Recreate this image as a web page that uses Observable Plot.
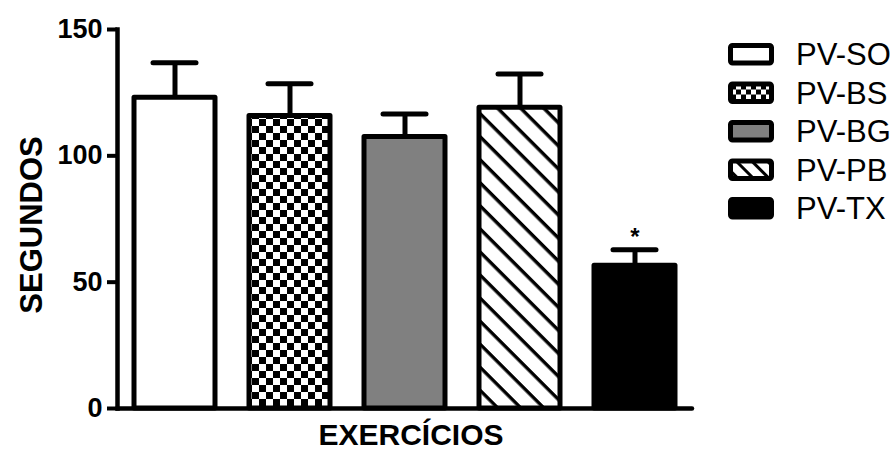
<!DOCTYPE html>
<html>
<head>
<meta charset="utf-8">
<script src="https://cdn.jsdelivr.net/npm/d3@7"></script>
<script src="https://cdn.jsdelivr.net/npm/@observablehq/plot@0.6"></script>
<style>
  html, body { margin: 0; padding: 0; background: #fff; }
  #wrap { position: relative; width: 894px; height: 450px; }
  #legend { position: absolute; left: 0; top: 0; }
</style>
</head>
<body>
<svg width="0" height="0" style="position:absolute">
  <defs>
    <pattern id="checker" patternUnits="userSpaceOnUse" width="14" height="14">
      <rect width="14" height="14" fill="#fff"></rect>
      <rect x="0" y="0" width="7" height="7" fill="#000"></rect>
      <rect x="7" y="7" width="7" height="7" fill="#000"></rect>
    </pattern>
    <pattern id="hatch" patternUnits="userSpaceOnUse" width="16.3" height="16.3" patternTransform="rotate(45)">
      <rect width="16.3" height="16.3" fill="#fff"></rect>
      <rect x="0" y="0" width="16.3" height="3.4" fill="#000"></rect>
    </pattern>
    <pattern id="checkerL" patternUnits="userSpaceOnUse" width="10" height="10" x="1" y="2">
      <rect width="10" height="10" fill="#fff"></rect>
      <rect x="0" y="0" width="5" height="5" fill="#000"></rect>
      <rect x="5" y="5" width="5" height="5" fill="#000"></rect>
    </pattern>
    <pattern id="hatchL" patternUnits="userSpaceOnUse" width="11" height="11" patternTransform="rotate(45)">
      <rect width="11" height="11" fill="#fff"></rect>
      <rect x="0" y="0" width="11" height="3" fill="#000"></rect>
    </pattern>
  </defs>
</svg>
<div id="wrap"></div>
<script>
// ---- data ----
const names = ["PV-SO", "PV-BS", "PV-BG", "PV-PB", "PV-TX"];
const means = [123, 115.8, 107.5, 119, 56.5];
const errs = [13.8, 12.7, 9.1, 13.4, 6.3];
const signif = ["", "", "", "", "*"];
const yTicks = [0, 50, 100, 150];
const fills = ["#ffffff", "url(#checker)", "#808080", "url(#hatch)", "#000000"];
const legendFills = ["#ffffff", "url(#checkerL)", "#808080", "url(#hatchL)", "#000000"];
const xLabel = "EXERCÍCIOS";
const yLabel = "SEGUNDOS";

const data = names.map((name, i) => ({
  name, mean: means[i], top: means[i] + errs[i], sig: signif[i]
}));

const chart = Plot.plot({
  width: 894,
  height: 450,
  marginLeft: 117,
  marginRight: 202,
  marginTop: 29,
  marginBottom: 42,
  style: { fontFamily: "Liberation Sans, Arial, sans-serif", fontSize: "27px", fontWeight: "bold", color: "#000", background: "#fff" },
  x: { domain: names, paddingInner: 0.3, paddingOuter: 0.15, axis: null },
  y: { domain: [0, 150], ticks: yTicks, label: null, axis: null },
  color: { type: "ordinal", domain: names, range: fills },
  marks: [
    // error bars (upper only)
    Plot.ruleX(data, { x: "name", y1: "mean", y2: "top", stroke: "#000", strokeWidth: 5 }),
    Plot.tickY(data, { x: "name", y: "top", stroke: "#000", strokeWidth: 5, strokeLinecap: "round", insetLeft: 19, insetRight: 19 }),
    // bars
    Plot.barY(data, { x: "name", y: "mean", fill: "name", stroke: "#000", strokeWidth: 5, strokeLinejoin: "round" }),
    // significance marker
    Plot.text(data, { x: "name", y: "top", text: "sig", fontSize: 24, fontWeight: "bold", dy: -13 }),
    // axes
    Plot.axisY({ ticks: yTicks, tickSize: 10, tickPadding: 5, strokeWidth: 4, fontSize: 27, fontWeight: "bold", label: null }),
    Plot.ruleY([0], { stroke: "#000", strokeWidth: 4.5, strokeLinecap: "round" }),
    Plot.frame({ anchor: "left", stroke: "#000", strokeWidth: 4.5 }),
    // axis titles
    Plot.text([xLabel], { frameAnchor: "bottom", textAnchor: "middle", dx: 6, dy: 36, lineAnchor: "bottom", fontSize: 30, fontWeight: "bold" }),
    Plot.text([yLabel], { frameAnchor: "left", textAnchor: "middle", rotate: -90, dx: -85, dy: 6, lineAnchor: "middle", fontSize: 31, fontWeight: "bold" })
  ]
});

const wrap = document.getElementById("wrap");
wrap.appendChild(chart);

// ---- legend ----
const lg = d3.select(wrap).append("svg")
  .attr("id", "legend")
  .attr("width", 894).attr("height", 450)
  .style("pointer-events", "none");
const rowY = d3.scalePoint().domain(names).range([54, 208]);
const item = lg.selectAll("g").data(names).join("g")
  .attr("transform", d => `translate(0,${rowY(d)})`);
item.append("rect")
  .attr("x", 730.5).attr("y", -8.5).attr("width", 41).attr("height", 17.5)
  .attr("rx", 2)
  .attr("fill", (d, i) => legendFills[i])
  .attr("stroke", "#000").attr("stroke-width", 5).attr("stroke-linejoin", "round");
item.append("text")
  .attr("x", 796).attr("y", 0).attr("dy", "0.36em")
  .attr("font-family", "Liberation Sans, Arial, sans-serif")
  .attr("font-size", 31)
  .attr("fill", "#000")
  .text(d => d);
</script>
</body>
</html>
